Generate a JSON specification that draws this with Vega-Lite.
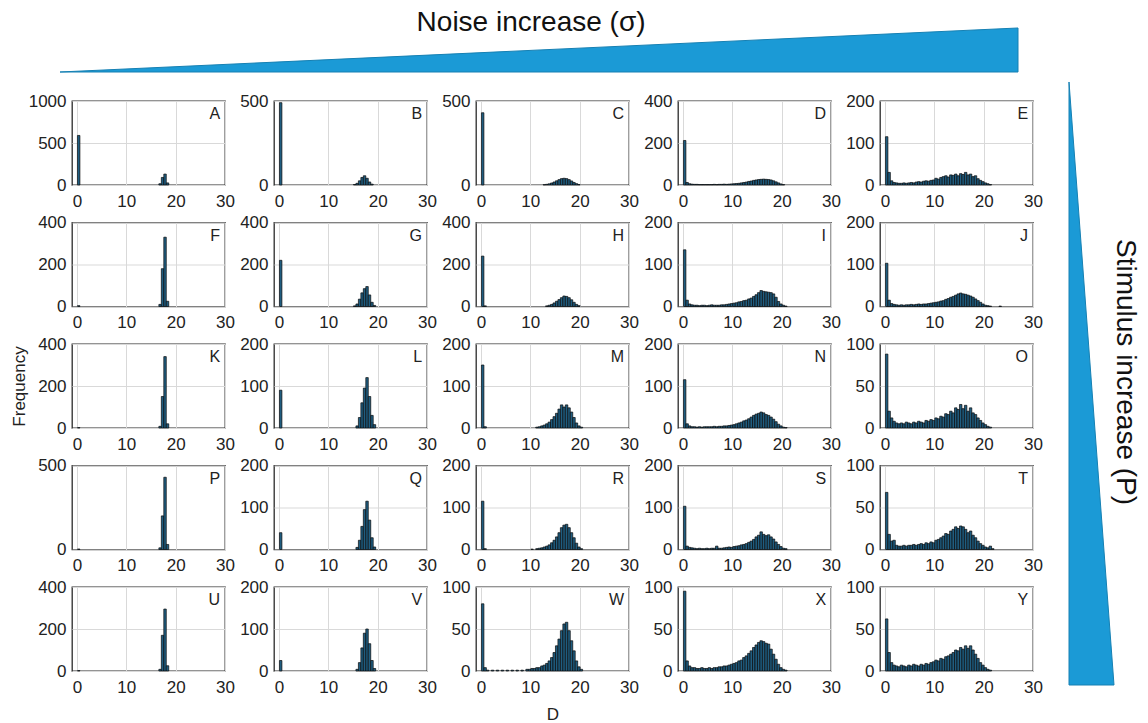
{
"$schema":"https://vega.github.io/schema/vega-lite/v6.json",
"background":"white",
"padding":{"left":9,"top":8,"right":0,"bottom":0},
"config":{"font":"Liberation Sans","view":{"stroke":"#2b2b2b","strokeWidth":1.3},
"axis":{"labelFontSize":17,"labelColor":"#222","ticks":false,"domain":false,"gridColor":"#d9d9d9","gridWidth":1,"titleFontSize":17,"titleFontWeight":"normal","titleColor":"#222","labelFlush":false,"labelOverlap":false,"format":"d"},
"axisX":{"labelPadding":8},"axisY":{"labelPadding":6},
"bar":{"fill":"#1f5d80","stroke":"#0a0a0a","strokeWidth":0.7,"binSpacing":0},
"text":{"fontSize":16,"color":"#222","align":"right","baseline":"top","dy":5}},
"spacing":23,
"hconcat":[
{"spacing":17,"vconcat":[
{"width":946,"height":64,"view":{"stroke":null},"layer":[
{"data":{"values":[{"u":0,"v":0},{"u":1,"v":1}]},"mark":{"type":"area","color":"#1b9ad6","stroke":"#1680b3","strokeWidth":1},
"encoding":{"x":{"field":"u","type":"quantitative","scale":{"domain":[0.012526,1],"nice":false},"axis":null},"y":{"field":"v","type":"quantitative","scale":{"domain":[0,1.4545],"nice":false},"axis":null}}},
{"data":{"values":[{"t":"Noise increase (σ)"}]},"mark":{"type":"text","fontSize":28,"align":"center","baseline":"middle","dy":0,"color":"#111"},
"encoding":{"x":{"datum":0.4917},"y":{"datum":1.1136},"text":{"field":"t"}}}
]},
{"columns":5,"spacing":{"row":2.5,"column":2},"concat":[
{"width":153,"height":84,"layer":[
{"data":{"values":[{"d":0,"n":590},{"d":16.5,"n":15},{"d":17,"n":90},{"d":17.5,"n":130},{"d":18,"n":25}]},"mark":"bar","encoding":{"x":{"field":"d","type":"quantitative","bin":{"binned":true,"step":0.5},"scale":{"domain":[-1,30],"nice":false},"axis":{"values":[0,10,20,30],"grid":true,"title":null}},"y":{"field":"n","type":"quantitative","scale":{"domain":[0,1000],"nice":false},"axis":{"values":[0,500,1000],"grid":true,"title":null}}}},
{"data":{"values":[{"p":"A"}]},"mark":"text","encoding":{"x":{"datum":29},"y":{"datum":1000},"text":{"field":"p"}}}]},
{"width":153,"height":84,"layer":[
{"data":{"values":[{"d":0,"n":490},{"d":15,"n":3},{"d":15.5,"n":10},{"d":16,"n":25},{"d":16.5,"n":45},{"d":17,"n":55},{"d":17.5,"n":40},{"d":18,"n":18},{"d":18.5,"n":5}]},"mark":"bar","encoding":{"x":{"field":"d","type":"quantitative","bin":{"binned":true,"step":0.5},"scale":{"domain":[-1,30],"nice":false},"axis":{"values":[0,10,20,30],"grid":true,"title":null}},"y":{"field":"n","type":"quantitative","scale":{"domain":[0,500],"nice":false},"axis":{"values":[0,500],"grid":true,"title":null}}}},
{"data":{"values":[{"p":"B"}]},"mark":"text","encoding":{"x":{"datum":29},"y":{"datum":500},"text":{"field":"p"}}}]},
{"width":153,"height":84,"layer":[
{"data":{"values":[{"d":0,"n":430},{"d":12.5,"n":2},{"d":13,"n":4},{"d":13.5,"n":7},{"d":14,"n":12},{"d":14.5,"n":18},{"d":15,"n":25},{"d":15.5,"n":32},{"d":16,"n":38},{"d":16.5,"n":40},{"d":17,"n":38},{"d":17.5,"n":32},{"d":18,"n":24},{"d":18.5,"n":15},{"d":19,"n":8},{"d":19.5,"n":3}]},"mark":"bar","encoding":{"x":{"field":"d","type":"quantitative","bin":{"binned":true,"step":0.5},"scale":{"domain":[-1,30],"nice":false},"axis":{"values":[0,10,20,30],"grid":true,"title":null}},"y":{"field":"n","type":"quantitative","scale":{"domain":[0,500],"nice":false},"axis":{"values":[0,500],"grid":true,"title":null}}}},
{"data":{"values":[{"p":"C"}]},"mark":"text","encoding":{"x":{"datum":29},"y":{"datum":500},"text":{"field":"p"}}}]},
{"width":153,"height":84,"layer":[
{"data":{"values":[{"d":0,"n":212},{"d":0.5,"n":12},{"d":1,"n":6},{"d":1.5,"n":4},{"d":2,"n":3},{"d":2.5,"n":3},{"d":3,"n":2},{"d":3.5,"n":2},{"d":4,"n":2},{"d":4.5,"n":2},{"d":5,"n":2},{"d":5.5,"n":2},{"d":6,"n":3},{"d":6.5,"n":2},{"d":7,"n":3},{"d":7.5,"n":3},{"d":8,"n":4},{"d":8.5,"n":3},{"d":9,"n":4},{"d":9.5,"n":5},{"d":10,"n":6},{"d":10.5,"n":7},{"d":11,"n":8},{"d":11.5,"n":10},{"d":12,"n":12},{"d":12.5,"n":14},{"d":13,"n":17},{"d":13.5,"n":19},{"d":14,"n":22},{"d":14.5,"n":24},{"d":15,"n":26},{"d":15.5,"n":27},{"d":16,"n":28},{"d":16.5,"n":27},{"d":17,"n":26},{"d":17.5,"n":24},{"d":18,"n":20},{"d":18.5,"n":15},{"d":19,"n":10},{"d":19.5,"n":5},{"d":20,"n":2}]},"mark":"bar","encoding":{"x":{"field":"d","type":"quantitative","bin":{"binned":true,"step":0.5},"scale":{"domain":[-1,30],"nice":false},"axis":{"values":[0,10,20,30],"grid":true,"title":null}},"y":{"field":"n","type":"quantitative","scale":{"domain":[0,400],"nice":false},"axis":{"values":[0,200,400],"grid":true,"title":null}}}},
{"data":{"values":[{"p":"D"}]},"mark":"text","encoding":{"x":{"datum":29},"y":{"datum":400},"text":{"field":"p"}}}]},
{"width":153,"height":84,"layer":[
{"data":{"values":[{"d":0,"n":115},{"d":0.5,"n":30},{"d":1,"n":10},{"d":1.5,"n":6},{"d":2,"n":5},{"d":2.5,"n":4},{"d":3,"n":4},{"d":3.5,"n":5},{"d":4,"n":4},{"d":4.5,"n":5},{"d":5,"n":6},{"d":5.5,"n":5},{"d":6,"n":7},{"d":6.5,"n":8},{"d":7,"n":7},{"d":7.5,"n":9},{"d":8,"n":10},{"d":8.5,"n":9},{"d":9,"n":11},{"d":9.5,"n":12},{"d":10,"n":16},{"d":10.5,"n":14},{"d":11,"n":18},{"d":11.5,"n":20},{"d":12,"n":22},{"d":12.5,"n":19},{"d":13,"n":24},{"d":13.5,"n":23},{"d":14,"n":26},{"d":14.5,"n":22},{"d":15,"n":27},{"d":15.5,"n":25},{"d":16,"n":30},{"d":16.5,"n":24},{"d":17,"n":26},{"d":17.5,"n":20},{"d":18,"n":22},{"d":18.5,"n":15},{"d":19,"n":11},{"d":19.5,"n":8},{"d":20,"n":5},{"d":20.5,"n":3},{"d":21,"n":1}]},"mark":"bar","encoding":{"x":{"field":"d","type":"quantitative","bin":{"binned":true,"step":0.5},"scale":{"domain":[-1,30],"nice":false},"axis":{"values":[0,10,20,30],"grid":true,"title":null}},"y":{"field":"n","type":"quantitative","scale":{"domain":[0,200],"nice":false},"axis":{"values":[0,100,200],"grid":true,"title":null}}}},
{"data":{"values":[{"p":"E"}]},"mark":"text","encoding":{"x":{"datum":29},"y":{"datum":200},"text":{"field":"p"}}}]},
{"width":153,"height":84,"layer":[
{"data":{"values":[{"d":0,"n":4},{"d":16.5,"n":10},{"d":17,"n":180},{"d":17.5,"n":330},{"d":18,"n":25}]},"mark":"bar","encoding":{"x":{"field":"d","type":"quantitative","bin":{"binned":true,"step":0.5},"scale":{"domain":[-1,30],"nice":false},"axis":{"values":[0,10,20,30],"grid":true,"title":null}},"y":{"field":"n","type":"quantitative","scale":{"domain":[0,400],"nice":false},"axis":{"values":[0,200,400],"grid":true,"title":null}}}},
{"data":{"values":[{"p":"F"}]},"mark":"text","encoding":{"x":{"datum":29},"y":{"datum":400},"text":{"field":"p"}}}]},
{"width":153,"height":84,"layer":[
{"data":{"values":[{"d":0,"n":220},{"d":15,"n":3},{"d":15.5,"n":12},{"d":16,"n":35},{"d":16.5,"n":65},{"d":17,"n":85},{"d":17.5,"n":95},{"d":18,"n":55},{"d":18.5,"n":20},{"d":19,"n":5}]},"mark":"bar","encoding":{"x":{"field":"d","type":"quantitative","bin":{"binned":true,"step":0.5},"scale":{"domain":[-1,30],"nice":false},"axis":{"values":[0,10,20,30],"grid":true,"title":null}},"y":{"field":"n","type":"quantitative","scale":{"domain":[0,400],"nice":false},"axis":{"values":[0,200,400],"grid":true,"title":null}}}},
{"data":{"values":[{"p":"G"}]},"mark":"text","encoding":{"x":{"datum":29},"y":{"datum":400},"text":{"field":"p"}}}]},
{"width":153,"height":84,"layer":[
{"data":{"values":[{"d":0,"n":240},{"d":0.5,"n":3},{"d":13,"n":3},{"d":13.5,"n":6},{"d":14,"n":10},{"d":14.5,"n":17},{"d":15,"n":25},{"d":15.5,"n":33},{"d":16,"n":42},{"d":16.5,"n":50},{"d":17,"n":48},{"d":17.5,"n":42},{"d":18,"n":32},{"d":18.5,"n":20},{"d":19,"n":10},{"d":19.5,"n":4}]},"mark":"bar","encoding":{"x":{"field":"d","type":"quantitative","bin":{"binned":true,"step":0.5},"scale":{"domain":[-1,30],"nice":false},"axis":{"values":[0,10,20,30],"grid":true,"title":null}},"y":{"field":"n","type":"quantitative","scale":{"domain":[0,400],"nice":false},"axis":{"values":[0,200,400],"grid":true,"title":null}}}},
{"data":{"values":[{"p":"H"}]},"mark":"text","encoding":{"x":{"datum":29},"y":{"datum":400},"text":{"field":"p"}}}]},
{"width":153,"height":84,"layer":[
{"data":{"values":[{"d":0,"n":135},{"d":0.5,"n":15},{"d":1,"n":6},{"d":1.5,"n":4},{"d":2,"n":3},{"d":2.5,"n":3},{"d":3,"n":2},{"d":3.5,"n":3},{"d":4,"n":3},{"d":4.5,"n":2},{"d":5,"n":3},{"d":5.5,"n":4},{"d":6,"n":3},{"d":6.5,"n":3},{"d":7,"n":3},{"d":7.5,"n":4},{"d":8,"n":4},{"d":8.5,"n":5},{"d":9,"n":6},{"d":9.5,"n":7},{"d":10,"n":8},{"d":10.5,"n":9},{"d":11,"n":11},{"d":11.5,"n":12},{"d":12,"n":14},{"d":12.5,"n":15},{"d":13,"n":18},{"d":13.5,"n":20},{"d":14,"n":24},{"d":14.5,"n":28},{"d":15,"n":33},{"d":15.5,"n":38},{"d":16,"n":36},{"d":16.5,"n":35},{"d":17,"n":34},{"d":17.5,"n":33},{"d":18,"n":30},{"d":18.5,"n":22},{"d":19,"n":12},{"d":19.5,"n":6},{"d":20,"n":3},{"d":20.5,"n":1}]},"mark":"bar","encoding":{"x":{"field":"d","type":"quantitative","bin":{"binned":true,"step":0.5},"scale":{"domain":[-1,30],"nice":false},"axis":{"values":[0,10,20,30],"grid":true,"title":null}},"y":{"field":"n","type":"quantitative","scale":{"domain":[0,200],"nice":false},"axis":{"values":[0,100,200],"grid":true,"title":null}}}},
{"data":{"values":[{"p":"I"}]},"mark":"text","encoding":{"x":{"datum":29},"y":{"datum":200},"text":{"field":"p"}}}]},
{"width":153,"height":84,"layer":[
{"data":{"values":[{"d":0,"n":103},{"d":0.5,"n":15},{"d":1,"n":7},{"d":1.5,"n":5},{"d":2,"n":4},{"d":2.5,"n":3},{"d":3,"n":4},{"d":3.5,"n":3},{"d":4,"n":4},{"d":4.5,"n":4},{"d":5,"n":5},{"d":5.5,"n":4},{"d":6,"n":5},{"d":6.5,"n":6},{"d":7,"n":5},{"d":7.5,"n":6},{"d":8,"n":6},{"d":8.5,"n":7},{"d":9,"n":8},{"d":9.5,"n":9},{"d":10,"n":10},{"d":10.5,"n":11},{"d":11,"n":13},{"d":11.5,"n":14},{"d":12,"n":17},{"d":12.5,"n":19},{"d":13,"n":22},{"d":13.5,"n":24},{"d":14,"n":27},{"d":14.5,"n":30},{"d":15,"n":32},{"d":15.5,"n":30},{"d":16,"n":29},{"d":16.5,"n":27},{"d":17,"n":25},{"d":17.5,"n":22},{"d":18,"n":18},{"d":18.5,"n":14},{"d":19,"n":10},{"d":19.5,"n":6},{"d":20,"n":3},{"d":20.5,"n":2},{"d":21,"n":1},{"d":23,"n":1}]},"mark":"bar","encoding":{"x":{"field":"d","type":"quantitative","bin":{"binned":true,"step":0.5},"scale":{"domain":[-1,30],"nice":false},"axis":{"values":[0,10,20,30],"grid":true,"title":null}},"y":{"field":"n","type":"quantitative","scale":{"domain":[0,200],"nice":false},"axis":{"values":[0,100,200],"grid":true,"title":null}}}},
{"data":{"values":[{"p":"J"}]},"mark":"text","encoding":{"x":{"datum":29},"y":{"datum":200},"text":{"field":"p"}}}]},
{"width":153,"height":84,"layer":[
{"data":{"values":[{"d":0,"n":2},{"d":16.5,"n":8},{"d":17,"n":150},{"d":17.5,"n":340},{"d":18,"n":20}]},"mark":"bar","encoding":{"x":{"field":"d","type":"quantitative","bin":{"binned":true,"step":0.5},"scale":{"domain":[-1,30],"nice":false},"axis":{"values":[0,10,20,30],"grid":true,"title":null}},"y":{"field":"n","type":"quantitative","scale":{"domain":[0,400],"nice":false},"axis":{"values":[0,200,400],"grid":true,"title":"Frequency","titlePadding":9}}}},
{"data":{"values":[{"p":"K"}]},"mark":"text","encoding":{"x":{"datum":29},"y":{"datum":400},"text":{"field":"p"}}}]},
{"width":153,"height":84,"layer":[
{"data":{"values":[{"d":0,"n":90},{"d":15.5,"n":5},{"d":16,"n":25},{"d":16.5,"n":60},{"d":17,"n":95},{"d":17.5,"n":120},{"d":18,"n":75},{"d":18.5,"n":30},{"d":19,"n":8}]},"mark":"bar","encoding":{"x":{"field":"d","type":"quantitative","bin":{"binned":true,"step":0.5},"scale":{"domain":[-1,30],"nice":false},"axis":{"values":[0,10,20,30],"grid":true,"title":null}},"y":{"field":"n","type":"quantitative","scale":{"domain":[0,200],"nice":false},"axis":{"values":[0,100,200],"grid":true,"title":null}}}},
{"data":{"values":[{"p":"L"}]},"mark":"text","encoding":{"x":{"datum":29},"y":{"datum":200},"text":{"field":"p"}}}]},
{"width":153,"height":84,"layer":[
{"data":{"values":[{"d":0,"n":150},{"d":0.5,"n":3},{"d":11,"n":2},{"d":11.5,"n":3},{"d":12,"n":5},{"d":12.5,"n":7},{"d":13,"n":10},{"d":13.5,"n":14},{"d":14,"n":20},{"d":14.5,"n":27},{"d":15,"n":35},{"d":15.5,"n":45},{"d":16,"n":55},{"d":16.5,"n":50},{"d":17,"n":55},{"d":17.5,"n":48},{"d":18,"n":38},{"d":18.5,"n":25},{"d":19,"n":12},{"d":19.5,"n":5},{"d":20,"n":2}]},"mark":"bar","encoding":{"x":{"field":"d","type":"quantitative","bin":{"binned":true,"step":0.5},"scale":{"domain":[-1,30],"nice":false},"axis":{"values":[0,10,20,30],"grid":true,"title":null}},"y":{"field":"n","type":"quantitative","scale":{"domain":[0,200],"nice":false},"axis":{"values":[0,100,200],"grid":true,"title":null}}}},
{"data":{"values":[{"p":"M"}]},"mark":"text","encoding":{"x":{"datum":29},"y":{"datum":200},"text":{"field":"p"}}}]},
{"width":153,"height":84,"layer":[
{"data":{"values":[{"d":0,"n":115},{"d":0.5,"n":10},{"d":1,"n":5},{"d":1.5,"n":3},{"d":2,"n":3},{"d":2.5,"n":2},{"d":3,"n":3},{"d":3.5,"n":2},{"d":4,"n":3},{"d":4.5,"n":3},{"d":5,"n":3},{"d":5.5,"n":3},{"d":6,"n":4},{"d":6.5,"n":3},{"d":7,"n":4},{"d":7.5,"n":4},{"d":8,"n":5},{"d":8.5,"n":5},{"d":9,"n":6},{"d":9.5,"n":7},{"d":10,"n":8},{"d":10.5,"n":10},{"d":11,"n":12},{"d":11.5,"n":14},{"d":12,"n":17},{"d":12.5,"n":19},{"d":13,"n":22},{"d":13.5,"n":26},{"d":14,"n":30},{"d":14.5,"n":33},{"d":15,"n":35},{"d":15.5,"n":38},{"d":16,"n":36},{"d":16.5,"n":32},{"d":17,"n":30},{"d":17.5,"n":26},{"d":18,"n":21},{"d":18.5,"n":15},{"d":19,"n":9},{"d":19.5,"n":5},{"d":20,"n":2},{"d":20.5,"n":1}]},"mark":"bar","encoding":{"x":{"field":"d","type":"quantitative","bin":{"binned":true,"step":0.5},"scale":{"domain":[-1,30],"nice":false},"axis":{"values":[0,10,20,30],"grid":true,"title":null}},"y":{"field":"n","type":"quantitative","scale":{"domain":[0,200],"nice":false},"axis":{"values":[0,100,200],"grid":true,"title":null}}}},
{"data":{"values":[{"p":"N"}]},"mark":"text","encoding":{"x":{"datum":29},"y":{"datum":200},"text":{"field":"p"}}}]},
{"width":153,"height":84,"layer":[
{"data":{"values":[{"d":0,"n":88},{"d":0.5,"n":20},{"d":1,"n":12},{"d":1.5,"n":8},{"d":2,"n":6},{"d":2.5,"n":5},{"d":3,"n":6},{"d":3.5,"n":5},{"d":4,"n":7},{"d":4.5,"n":6},{"d":5,"n":5},{"d":5.5,"n":7},{"d":6,"n":6},{"d":6.5,"n":8},{"d":7,"n":7},{"d":7.5,"n":6},{"d":8,"n":9},{"d":8.5,"n":8},{"d":9,"n":10},{"d":9.5,"n":9},{"d":10,"n":12},{"d":10.5,"n":11},{"d":11,"n":14},{"d":11.5,"n":13},{"d":12,"n":17},{"d":12.5,"n":16},{"d":13,"n":20},{"d":13.5,"n":18},{"d":14,"n":24},{"d":14.5,"n":22},{"d":15,"n":28},{"d":15.5,"n":23},{"d":16,"n":27},{"d":16.5,"n":20},{"d":17,"n":24},{"d":17.5,"n":18},{"d":18,"n":16},{"d":18.5,"n":12},{"d":19,"n":9},{"d":19.5,"n":6},{"d":20,"n":4},{"d":20.5,"n":2},{"d":21,"n":1}]},"mark":"bar","encoding":{"x":{"field":"d","type":"quantitative","bin":{"binned":true,"step":0.5},"scale":{"domain":[-1,30],"nice":false},"axis":{"values":[0,10,20,30],"grid":true,"title":null}},"y":{"field":"n","type":"quantitative","scale":{"domain":[0,100],"nice":false},"axis":{"values":[0,50,100],"grid":true,"title":null}}}},
{"data":{"values":[{"p":"O"}]},"mark":"text","encoding":{"x":{"datum":29},"y":{"datum":100},"text":{"field":"p"}}}]},
{"width":153,"height":84,"layer":[
{"data":{"values":[{"d":0,"n":3},{"d":16.5,"n":10},{"d":17,"n":200},{"d":17.5,"n":430},{"d":18,"n":30}]},"mark":"bar","encoding":{"x":{"field":"d","type":"quantitative","bin":{"binned":true,"step":0.5},"scale":{"domain":[-1,30],"nice":false},"axis":{"values":[0,10,20,30],"grid":true,"title":null}},"y":{"field":"n","type":"quantitative","scale":{"domain":[0,500],"nice":false},"axis":{"values":[0,500],"grid":true,"title":null}}}},
{"data":{"values":[{"p":"P"}]},"mark":"text","encoding":{"x":{"datum":29},"y":{"datum":500},"text":{"field":"p"}}}]},
{"width":153,"height":84,"layer":[
{"data":{"values":[{"d":0,"n":40},{"d":15.5,"n":5},{"d":16,"n":22},{"d":16.5,"n":55},{"d":17,"n":95},{"d":17.5,"n":115},{"d":18,"n":70},{"d":18.5,"n":28},{"d":19,"n":6}]},"mark":"bar","encoding":{"x":{"field":"d","type":"quantitative","bin":{"binned":true,"step":0.5},"scale":{"domain":[-1,30],"nice":false},"axis":{"values":[0,10,20,30],"grid":true,"title":null}},"y":{"field":"n","type":"quantitative","scale":{"domain":[0,200],"nice":false},"axis":{"values":[0,100,200],"grid":true,"title":null}}}},
{"data":{"values":[{"p":"Q"}]},"mark":"text","encoding":{"x":{"datum":29},"y":{"datum":200},"text":{"field":"p"}}}]},
{"width":153,"height":84,"layer":[
{"data":{"values":[{"d":0,"n":115},{"d":0.5,"n":2},{"d":10,"n":1},{"d":11,"n":2},{"d":11.5,"n":3},{"d":12,"n":4},{"d":12.5,"n":6},{"d":13,"n":8},{"d":13.5,"n":11},{"d":14,"n":16},{"d":14.5,"n":22},{"d":15,"n":30},{"d":15.5,"n":40},{"d":16,"n":52},{"d":16.5,"n":58},{"d":17,"n":60},{"d":17.5,"n":52},{"d":18,"n":40},{"d":18.5,"n":28},{"d":19,"n":15},{"d":19.5,"n":6},{"d":20,"n":2}]},"mark":"bar","encoding":{"x":{"field":"d","type":"quantitative","bin":{"binned":true,"step":0.5},"scale":{"domain":[-1,30],"nice":false},"axis":{"values":[0,10,20,30],"grid":true,"title":null}},"y":{"field":"n","type":"quantitative","scale":{"domain":[0,200],"nice":false},"axis":{"values":[0,100,200],"grid":true,"title":null}}}},
{"data":{"values":[{"p":"R"}]},"mark":"text","encoding":{"x":{"datum":29},"y":{"datum":200},"text":{"field":"p"}}}]},
{"width":153,"height":84,"layer":[
{"data":{"values":[{"d":0,"n":103},{"d":0.5,"n":8},{"d":1,"n":5},{"d":1.5,"n":4},{"d":2,"n":3},{"d":2.5,"n":2},{"d":3,"n":3},{"d":3.5,"n":2},{"d":4,"n":2},{"d":4.5,"n":3},{"d":5,"n":2},{"d":5.5,"n":3},{"d":6,"n":3},{"d":6.5,"n":8},{"d":7,"n":3},{"d":7.5,"n":3},{"d":8,"n":4},{"d":8.5,"n":5},{"d":9,"n":6},{"d":9.5,"n":5},{"d":10,"n":7},{"d":10.5,"n":8},{"d":11,"n":9},{"d":11.5,"n":11},{"d":12,"n":12},{"d":12.5,"n":14},{"d":13,"n":17},{"d":13.5,"n":20},{"d":14,"n":24},{"d":14.5,"n":30},{"d":15,"n":34},{"d":15.5,"n":42},{"d":16,"n":36},{"d":16.5,"n":33},{"d":17,"n":35},{"d":17.5,"n":30},{"d":18,"n":25},{"d":18.5,"n":18},{"d":19,"n":12},{"d":19.5,"n":7},{"d":20,"n":3},{"d":20.5,"n":2}]},"mark":"bar","encoding":{"x":{"field":"d","type":"quantitative","bin":{"binned":true,"step":0.5},"scale":{"domain":[-1,30],"nice":false},"axis":{"values":[0,10,20,30],"grid":true,"title":null}},"y":{"field":"n","type":"quantitative","scale":{"domain":[0,200],"nice":false},"axis":{"values":[0,100,200],"grid":true,"title":null}}}},
{"data":{"values":[{"p":"S"}]},"mark":"text","encoding":{"x":{"datum":29},"y":{"datum":200},"text":{"field":"p"}}}]},
{"width":153,"height":84,"layer":[
{"data":{"values":[{"d":0,"n":68},{"d":0.5,"n":18},{"d":1,"n":10},{"d":1.5,"n":11},{"d":2,"n":5},{"d":2.5,"n":4},{"d":3,"n":4},{"d":3.5,"n":5},{"d":4,"n":4},{"d":4.5,"n":5},{"d":5,"n":5},{"d":5.5,"n":6},{"d":6,"n":5},{"d":6.5,"n":6},{"d":7,"n":7},{"d":7.5,"n":6},{"d":8,"n":8},{"d":8.5,"n":7},{"d":9,"n":9},{"d":9.5,"n":8},{"d":10,"n":11},{"d":10.5,"n":12},{"d":11,"n":14},{"d":11.5,"n":16},{"d":12,"n":19},{"d":12.5,"n":18},{"d":13,"n":22},{"d":13.5,"n":24},{"d":14,"n":27},{"d":14.5,"n":25},{"d":15,"n":28},{"d":15.5,"n":27},{"d":16,"n":24},{"d":16.5,"n":20},{"d":17,"n":22},{"d":17.5,"n":17},{"d":18,"n":14},{"d":18.5,"n":10},{"d":19,"n":7},{"d":19.5,"n":5},{"d":20,"n":3},{"d":20.5,"n":2},{"d":21,"n":4},{"d":21.5,"n":1}]},"mark":"bar","encoding":{"x":{"field":"d","type":"quantitative","bin":{"binned":true,"step":0.5},"scale":{"domain":[-1,30],"nice":false},"axis":{"values":[0,10,20,30],"grid":true,"title":null}},"y":{"field":"n","type":"quantitative","scale":{"domain":[0,100],"nice":false},"axis":{"values":[0,50,100],"grid":true,"title":null}}}},
{"data":{"values":[{"p":"T"}]},"mark":"text","encoding":{"x":{"datum":29},"y":{"datum":100},"text":{"field":"p"}}}]},
{"width":153,"height":84,"layer":[
{"data":{"values":[{"d":0,"n":2},{"d":16.5,"n":8},{"d":17,"n":170},{"d":17.5,"n":295},{"d":18,"n":25}]},"mark":"bar","encoding":{"x":{"field":"d","type":"quantitative","bin":{"binned":true,"step":0.5},"scale":{"domain":[-1,30],"nice":false},"axis":{"values":[0,10,20,30],"grid":true,"title":null}},"y":{"field":"n","type":"quantitative","scale":{"domain":[0,400],"nice":false},"axis":{"values":[0,200,400],"grid":true,"title":null}}}},
{"data":{"values":[{"p":"U"}]},"mark":"text","encoding":{"x":{"datum":29},"y":{"datum":400},"text":{"field":"p"}}}]},
{"width":153,"height":84,"layer":[
{"data":{"values":[{"d":0,"n":25},{"d":15.5,"n":4},{"d":16,"n":20},{"d":16.5,"n":55},{"d":17,"n":90},{"d":17.5,"n":100},{"d":18,"n":65},{"d":18.5,"n":25},{"d":19,"n":6}]},"mark":"bar","encoding":{"x":{"field":"d","type":"quantitative","bin":{"binned":true,"step":0.5},"scale":{"domain":[-1,30],"nice":false},"axis":{"values":[0,10,20,30],"grid":true,"title":null}},"y":{"field":"n","type":"quantitative","scale":{"domain":[0,200],"nice":false},"axis":{"values":[0,100,200],"grid":true,"title":null}}}},
{"data":{"values":[{"p":"V"}]},"mark":"text","encoding":{"x":{"datum":29},"y":{"datum":200},"text":{"field":"p"}}}]},
{"width":153,"height":84,"layer":[
{"data":{"values":[{"d":0,"n":80},{"d":0.5,"n":4},{"d":1,"n":1},{"d":2,"n":1},{"d":3,"n":1},{"d":4,"n":1},{"d":5,"n":1},{"d":6,"n":1},{"d":7,"n":1},{"d":8,"n":1},{"d":9,"n":2},{"d":9.5,"n":2},{"d":10,"n":3},{"d":10.5,"n":3},{"d":11,"n":4},{"d":11.5,"n":4},{"d":12,"n":6},{"d":12.5,"n":7},{"d":13,"n":9},{"d":13.5,"n":12},{"d":14,"n":16},{"d":14.5,"n":22},{"d":15,"n":30},{"d":15.5,"n":38},{"d":16,"n":48},{"d":16.5,"n":56},{"d":17,"n":58},{"d":17.5,"n":48},{"d":18,"n":36},{"d":18.5,"n":24},{"d":19,"n":12},{"d":19.5,"n":5},{"d":20,"n":2}]},"mark":"bar","encoding":{"x":{"field":"d","type":"quantitative","bin":{"binned":true,"step":0.5},"scale":{"domain":[-1,30],"nice":false},"axis":{"values":[0,10,20,30],"grid":true,"title":"D","titlePadding":11}},"y":{"field":"n","type":"quantitative","scale":{"domain":[0,100],"nice":false},"axis":{"values":[0,50,100],"grid":true,"title":null}}}},
{"data":{"values":[{"p":"W"}]},"mark":"text","encoding":{"x":{"datum":29},"y":{"datum":100},"text":{"field":"p"}}}]},
{"width":153,"height":84,"layer":[
{"data":{"values":[{"d":0,"n":95},{"d":0.5,"n":12},{"d":1,"n":6},{"d":1.5,"n":4},{"d":2,"n":4},{"d":2.5,"n":3},{"d":3,"n":3},{"d":3.5,"n":4},{"d":4,"n":3},{"d":4.5,"n":3},{"d":5,"n":4},{"d":5.5,"n":3},{"d":6,"n":4},{"d":6.5,"n":4},{"d":7,"n":5},{"d":7.5,"n":5},{"d":8,"n":6},{"d":8.5,"n":6},{"d":9,"n":7},{"d":9.5,"n":8},{"d":10,"n":9},{"d":10.5,"n":10},{"d":11,"n":12},{"d":11.5,"n":13},{"d":12,"n":16},{"d":12.5,"n":18},{"d":13,"n":21},{"d":13.5,"n":24},{"d":14,"n":28},{"d":14.5,"n":31},{"d":15,"n":34},{"d":15.5,"n":36},{"d":16,"n":35},{"d":16.5,"n":33},{"d":17,"n":32},{"d":17.5,"n":26},{"d":18,"n":20},{"d":18.5,"n":14},{"d":19,"n":8},{"d":19.5,"n":4},{"d":20,"n":2},{"d":20.5,"n":1}]},"mark":"bar","encoding":{"x":{"field":"d","type":"quantitative","bin":{"binned":true,"step":0.5},"scale":{"domain":[-1,30],"nice":false},"axis":{"values":[0,10,20,30],"grid":true,"title":null}},"y":{"field":"n","type":"quantitative","scale":{"domain":[0,100],"nice":false},"axis":{"values":[0,50,100],"grid":true,"title":null}}}},
{"data":{"values":[{"p":"X"}]},"mark":"text","encoding":{"x":{"datum":29},"y":{"datum":100},"text":{"field":"p"}}}]},
{"width":153,"height":84,"layer":[
{"data":{"values":[{"d":0,"n":62},{"d":0.5,"n":22},{"d":1,"n":10},{"d":1.5,"n":7},{"d":2,"n":6},{"d":2.5,"n":5},{"d":3,"n":7},{"d":3.5,"n":6},{"d":4,"n":5},{"d":4.5,"n":7},{"d":5,"n":6},{"d":5.5,"n":8},{"d":6,"n":7},{"d":6.5,"n":6},{"d":7,"n":8},{"d":7.5,"n":7},{"d":8,"n":9},{"d":8.5,"n":8},{"d":9,"n":10},{"d":9.5,"n":11},{"d":10,"n":13},{"d":10.5,"n":12},{"d":11,"n":15},{"d":11.5,"n":14},{"d":12,"n":17},{"d":12.5,"n":18},{"d":13,"n":20},{"d":13.5,"n":22},{"d":14,"n":25},{"d":14.5,"n":24},{"d":15,"n":28},{"d":15.5,"n":26},{"d":16,"n":30},{"d":16.5,"n":27},{"d":17,"n":30},{"d":17.5,"n":25},{"d":18,"n":20},{"d":18.5,"n":15},{"d":19,"n":10},{"d":19.5,"n":7},{"d":20,"n":4},{"d":20.5,"n":2},{"d":21,"n":1}]},"mark":"bar","encoding":{"x":{"field":"d","type":"quantitative","bin":{"binned":true,"step":0.5},"scale":{"domain":[-1,30],"nice":false},"axis":{"values":[0,10,20,30],"grid":true,"title":null}},"y":{"field":"n","type":"quantitative","scale":{"domain":[0,100],"nice":false},"axis":{"values":[0,50,100],"grid":true,"title":null}}}},
{"data":{"values":[{"p":"Y"}]},"mark":"text","encoding":{"x":{"datum":29},"y":{"datum":100},"text":{"field":"p"}}}]}
]}
]},
{"width":76,"height":677,"view":{"stroke":null},"layer":[
{"data":{"values":[{"u":1,"v":0},{"u":0,"v":1}]},"mark":{"type":"area","orient":"horizontal","color":"#1b9ad6","stroke":"#1680b3","strokeWidth":1},
"encoding":{"x":{"field":"u","type":"quantitative","scale":{"domain":[0,1.6889],"nice":false},"axis":null},"y":{"field":"v","type":"quantitative","scale":{"domain":[0,1.1227],"nice":false},"axis":null}}},
{"data":{"values":[{"t":"Stimulus increase (P)"}]},"mark":{"type":"text","fontSize":28,"angle":90,"align":"center","baseline":"middle","dy":0,"color":"#111"},
"encoding":{"x":{"datum":1.244},"y":{"datum":0.519},"text":{"field":"t"}}}
]}
]
}
